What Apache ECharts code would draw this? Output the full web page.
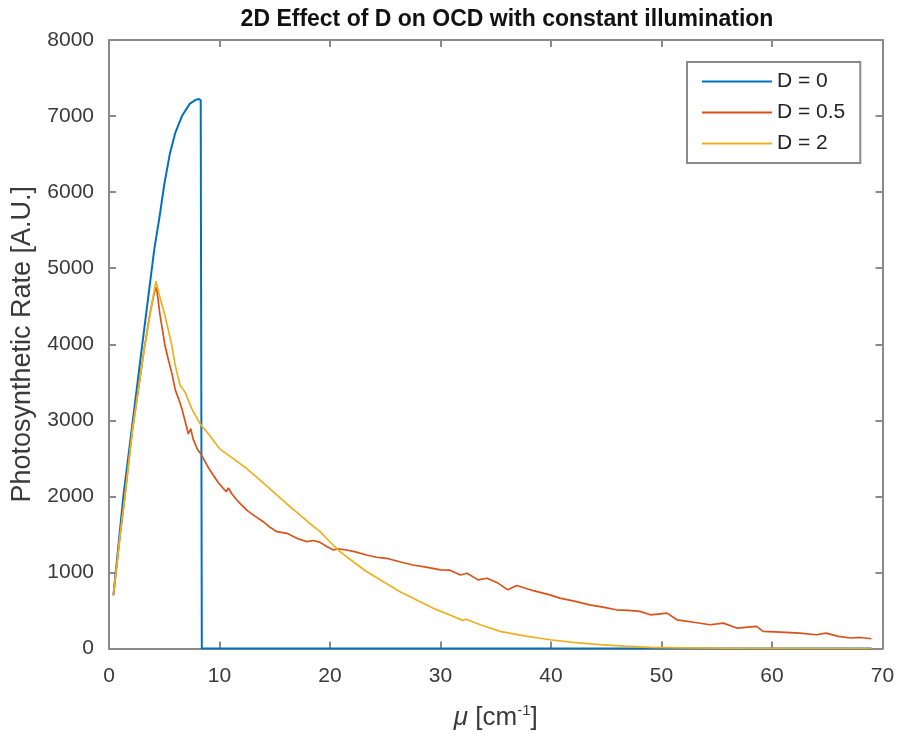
<!DOCTYPE html>
<html>
<head>
<meta charset="utf-8">
<script src="https://cdn.jsdelivr.net/npm/echarts@6/dist/echarts.min.js"></script>
<style>
  html, body { margin: 0; padding: 0; background: #fff; }
  #chart { width: 898px; height: 736px; }
</style>
</head>
<body>
<div id="chart"></div>
<script>
// ---- data ----
const seriesNames = ['D = 0', 'D = 0.5', 'D = 2'];

const muD0 = [0.4, 1.3, 2.2, 3.1, 4.1, 4.6, 5.0, 5.5, 6.0, 6.6, 7.3, 7.8, 8.1, 8.3, 8.4, 69.0];
const rateD0 = [700, 2000, 3050, 4100, 5250, 5700, 6100, 6500, 6780, 7000, 7160, 7210, 7225, 7210, 0, 0];

const muD05 = [0.4, 1.0, 1.4, 2.1, 2.7, 3.2, 3.7, 4.1, 4.3, 4.6, 5.07, 5.4, 5.67, 6.0, 6.4, 6.6, 6.9, 7.18, 7.4, 7.6,
  8.0, 8.39, 8.9, 9.44, 9.9, 10.35, 10.6, 10.8, 11.1, 11.7, 12.46, 13.2, 13.96, 14.6, 15.2, 16.1, 17.0, 17.9, 18.5, 19.1,
  19.7, 20.3, 20.7, 21.5, 22.3, 23.3, 24.2, 25.1, 26.3, 27.5, 28.7, 30.0, 30.86, 31.8, 32.4, 33.4, 34.2, 35.2, 36.1, 36.9,
  38.4, 39.9, 40.8, 42.2, 43.5, 44.7, 45.9, 47.0, 48.05, 49.0, 50.5, 51.4, 52.9, 54.4, 55.6, 56.8, 58.6, 59.2, 60.8, 62.5,
  64.0, 64.9, 66.0, 67.1, 68.0, 69.0];
const rateD05 = [700, 1480, 1950, 2850, 3450, 3950, 4400, 4680, 4750, 4400, 3980, 3780, 3630, 3400, 3240, 3150, 2980, 2820, 2890, 2760,
  2620, 2540, 2400, 2278, 2180, 2103, 2060, 2110, 2038, 1930, 1819, 1740, 1667, 1590, 1536, 1514, 1450, 1405, 1420, 1395,
  1340, 1295, 1310, 1295, 1270, 1229, 1200, 1186, 1140, 1098, 1070, 1033, 1030, 967, 990, 902, 924, 860, 771, 828,
  760, 705, 662, 620, 574, 545, 509, 500, 488, 443, 465, 377, 345, 312, 334, 269, 291, 225, 215, 203,
  181, 203, 160, 138, 145, 128];

const muD2 = [0.4, 1.0, 1.4, 2.1, 2.7, 3.2, 3.7, 4.25, 4.6, 5.07, 5.67, 6.0, 6.43, 6.88, 7.5, 8.24, 9.0, 10.0, 11.2, 12.46,
  13.7, 14.87, 16.1, 17.3, 18.2, 19.1, 20.0, 20.9, 22.1, 23.3, 24.8, 26.3, 27.8, 29.3, 30.86, 32.0, 32.3, 33.6, 35.4, 37.6,
  39.9, 42.0, 44.4, 46.7, 49.0, 52.0, 56.0, 60.0, 69.0];
const rateD2 = [700, 1480, 1950, 2850, 3450, 3950, 4380, 4830, 4620, 4375, 3995, 3720, 3457, 3371, 3150, 2955, 2820, 2628, 2500, 2366,
  2210, 2060, 1900, 1754, 1640, 1536, 1400, 1274, 1140, 1012, 880, 750, 640, 531, 440, 370, 385, 312, 225, 165,
  115, 80, 50, 30, 16, 8, 3, 1, 0];

const xTicks = [0, 10, 20, 30, 40, 50, 60, 70];
const yTicks = [0, 1000, 2000, 3000, 4000, 5000, 6000, 7000, 8000];

const colors = ['#0072BD', '#D95319', '#EDB120'];

function pairs(xs, ys) { return xs.map((x, i) => [x, ys[i]]); }

const chart = echarts.init(document.getElementById('chart'), null, { renderer: 'canvas' });
const FONT = 'Liberation Sans, Arial, Helvetica, sans-serif';
const AX = '#8a8a8a';
const TXT = '#3a3a3a';

const tickStyle = { show: true, inside: true, length: 7, lineStyle: { color: AX, width: 2 } };
const lineStyleAx = { show: true, onZero: false, lineStyle: { color: AX, width: 2 } };

const option = {
  backgroundColor: '#ffffff',
  animation: false,
  color: colors,
  title: {
    text: '2D Effect of D on OCD with constant illumination',
    left: 502, top: 3, textAlign: 'center',
    textStyle: { fontFamily: FONT, fontWeight: 'bold', fontSize: 23, color: '#111' }
  },
  legend: {
    orient: 'vertical', left: 687, top: 62,
    data: seriesNames,
    icon: 'rect',
    itemWidth: 70, itemHeight: 2, itemGap: 10,
    padding: [9, 15, 9, 15],
    borderColor: AX, borderWidth: 2, backgroundColor: '#fff',
    textStyle: { fontFamily: FONT, fontSize: 21, color: '#222', lineHeight: 19 }
  },
  grid: { left: 109, right: 15.5, top: 40, bottom: 85.5, show: false },
  xAxis: [{
    type: 'value', min: xTicks[0], max: xTicks[xTicks.length - 1], interval: 10,
    name: '{i|μ} [cm{s|-1}]', nameLocation: 'middle', nameGap: 55,
    nameTextStyle: { fontFamily: FONT, fontSize: 26, color: TXT,
      rich: { i: { fontFamily: FONT, fontStyle: 'italic', fontSize: 26, color: TXT },
              s: { fontFamily: FONT, fontSize: 15, color: TXT, padding: [0, 0, 14, 0] } } },
    axisLine: lineStyleAx,
    axisTick: tickStyle,
    axisLabel: { margin: 17, fontFamily: FONT, fontSize: 21, color: TXT, formatter: v => String(v) },
    splitLine: { show: false }
  }, {
    type: 'value', position: 'top', min: xTicks[0], max: xTicks[xTicks.length - 1], interval: 10,
    axisLine: lineStyleAx,
    axisTick: tickStyle,
    axisLabel: { show: false }, splitLine: { show: false }
  }],
  yAxis: [{
    type: 'value', min: yTicks[0], max: yTicks[yTicks.length - 1], interval: 1000,
    name: 'Photosynthetic Rate [A.U.]', nameLocation: 'middle', nameGap: 62,
    nameTextStyle: { fontFamily: FONT, fontSize: 27, color: TXT },
    axisLine: lineStyleAx,
    axisTick: tickStyle,
    axisLabel: { margin: 15, fontFamily: FONT, fontSize: 21, color: TXT, formatter: v => String(v) },
    splitLine: { show: false }
  }, {
    type: 'value', position: 'right', min: yTicks[0], max: yTicks[yTicks.length - 1], interval: 1000,
    axisLine: lineStyleAx,
    axisTick: tickStyle,
    axisLabel: { show: false }, splitLine: { show: false }
  }],
  series: [
    { name: seriesNames[0], type: 'line', data: pairs(muD0, rateD0), symbol: 'none', lineStyle: { width: 2, color: colors[0] }, itemStyle: { color: colors[0] }, z: 3 },
    { name: seriesNames[1], type: 'line', data: pairs(muD05, rateD05), symbol: 'none', lineStyle: { width: 1.7, color: colors[1] }, itemStyle: { color: colors[1] }, z: 4 },
    { name: seriesNames[2], type: 'line', data: pairs(muD2, rateD2), symbol: 'none', lineStyle: { width: 1.7, color: colors[2] }, itemStyle: { color: colors[2] }, z: 5 }
  ]
};
chart.setOption(option);
</script>
</body>
</html>
